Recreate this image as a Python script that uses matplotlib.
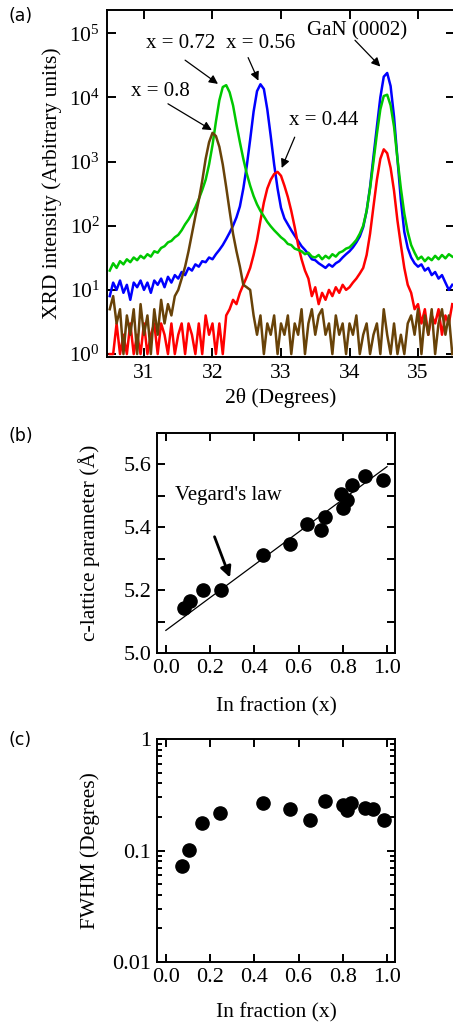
import numpy as np
import matplotlib
matplotlib.use("Agg")
import matplotlib.pyplot as plt
from matplotlib.ticker import LogLocator, NullFormatter, MultipleLocator

plt.rcParams['font.family'] = ['Liberation Serif', 'DejaVu Serif']
plt.rcParams['mathtext.fontset'] = 'stix'
plt.rcParams['axes.linewidth'] = 1.4

# ---- panel (a): XRD scans, 2theta from 30.50 to 35.50 in steps of 0.05 ----
two_theta = np.round(np.arange(30.50, 35.501, 0.05), 2)

i_072 = [20, 26, 22, 28, 25, 30, 27, 32, 29, 34,
         31, 36, 33, 40, 38, 45, 48, 55, 58, 66,
         72, 85, 105, 125, 155, 195, 260, 360, 520, 900,
         1800, 4200, 9000, 14500, 15500, 12000, 7500, 3800, 2000, 1100,
         650, 420, 290, 215, 170, 140, 115, 98, 85, 75,
         66, 60, 52, 50, 44, 42, 40, 36, 38, 33,
         32, 35, 30, 34, 31, 36, 33, 38, 40, 44,
         46, 52, 60, 75, 100, 170, 380, 1000, 2700, 6500,
         10500, 11000, 7500, 3500, 1100, 380, 155, 80, 50, 38,
         30, 33, 28, 32, 29, 34, 30, 35, 31, 36, 33]

i_056 = [8, 13, 10, 14, 9, 12, 7, 13, 11, 14,
         10, 13, 9, 14, 12, 15, 11, 16, 13, 17,
         15, 19, 17, 22, 20, 25, 23, 28, 27, 32,
         30, 36, 42, 50, 62, 78, 100, 135, 200, 380,
         850, 2200, 6000, 12500, 16000, 13500, 6500, 2500, 900, 380,
         190, 130, 105, 85, 70, 58, 48, 42, 36, 30,
         29, 26, 24, 22, 25, 23, 26, 28, 32, 36,
         40, 46, 55, 68, 95, 170, 400, 1200, 3500, 10000,
         21000, 24000, 15000, 5000, 1100, 250, 80, 45, 32, 26,
         23, 25, 20, 22, 17, 19, 15, 17, 13, 10, 12]

i_044 = [1, 1, 3, 1, 2, 1, 3, 1, 2, 1,
         3, 1, 2, 3, 1, 3, 2, 1, 3, 1,
         2, 3, 1, 3, 2, 1, 3, 1, 4, 2,
         3, 1, 3, 1, 4, 5, 7, 6, 9, 12,
         16, 22, 35, 60, 120, 230, 380, 520, 640, 690,
         600, 420, 280, 170, 95, 50, 30, 20, 15, 8,
         11, 6, 9, 7, 10, 8, 11, 9, 12, 10,
         11, 13, 15, 18, 22, 35, 75, 200, 520, 1100,
         1550, 1350, 800, 350, 120, 50, 22, 12, 9, 5,
         6, 3, 5, 2, 4, 3, 5, 2, 4, 3, 6]

i_080 = [5, 8, 3, 5, 1, 4, 2, 5, 1, 6,
         2, 4, 1, 5, 2, 7, 3, 6, 4, 8,
         10, 15, 23, 40, 75, 140, 250, 500, 1100, 2000,
         2800, 2500, 1700, 900, 400, 170, 75, 40, 23, 12,
         11, 10, 4, 2, 4, 1, 3, 2, 4, 1,
         3, 2, 4, 1, 3, 2, 5, 1, 3, 5,
         2, 4, 5, 2, 3, 1, 4, 2, 3, 1,
         3, 2, 4, 1, 2, 3, 1, 2, 3, 1,
         5, 2, 1, 3, 1, 2, 1, 3, 4, 2,
         5, 1, 4, 2, 5, 1, 3, 5, 2, 4, 1]

# ---- panel (b): c-lattice parameter ----
x_frac_b = [0.08, 0.11, 0.17, 0.25, 0.44, 0.56, 0.64, 0.70, 0.72, 0.79,
            0.80, 0.82, 0.84, 0.90, 0.98]
c_lat = [5.143, 5.166, 5.202, 5.199, 5.312, 5.348, 5.409, 5.391, 5.433, 5.507,
         5.461, 5.487, 5.534, 5.563, 5.549]
vegard_x = [0.0, 1.0]
vegard_c = [5.072, 5.593]

# ---- panel (c): FWHM ----
x_frac_c = [0.075, 0.105, 0.165, 0.245, 0.44, 0.56, 0.65, 0.72, 0.80, 0.82,
            0.835, 0.90, 0.935, 0.985]
fwhm = [0.073, 0.101, 0.175, 0.218, 0.267, 0.237, 0.188, 0.277, 0.258, 0.229,
        0.266, 0.239, 0.235, 0.188]

W, H = 453, 1027
fig = plt.figure(figsize=(W / 100, H / 100), dpi=100)


def box(l, t, r, b):
    return [l / W, 1 - b / H, (r - l) / W, (b - t) / H]


tick_kw = dict(direction='in', top=True, right=True, width=1.4)

# (a)
ax1 = fig.add_axes(box(107, 10, 455, 357))
ax1.plot(two_theta, i_056, color='#0000ff', lw=1.8)
ax1.plot(two_theta, i_044, color='#ff0000', lw=1.8)
ax1.plot(two_theta, i_072, color='#00c800', lw=1.8)
ax1.plot(two_theta, i_080, color='#684208', lw=1.8)
ax1.set_yscale('log')
ax1.set_xlim(30.46, 35.54)
ax1.set_ylim(0.9, 2.3e5)
ax1.yaxis.set_major_locator(LogLocator(base=10, numticks=10))
ax1.yaxis.set_minor_locator(LogLocator(base=10, subs=(), numticks=10))
ax1.xaxis.set_major_locator(MultipleLocator(1))
ax1.tick_params(which='major', length=6.5, labelsize=15.5, pad=5, **tick_kw)
ax1.set_xlabel('2θ (Degrees)', fontsize=15.5, labelpad=4)
ax1.set_ylabel('XRD intensity (Arbitrary units)', fontsize=15.5)
ax1.yaxis.set_label_coords(-0.13, 0.5)

arrow = dict(arrowstyle='-|>', color='k', lw=0.9, mutation_scale=13, shrinkA=0, shrinkB=0)
ax1.text(31.54, 10**4.84, 'x = 0.72', ha='center', va='center', fontsize=15)
ax1.annotate('', xy=(32.08, 10**4.21), xytext=(31.6, 10**4.58), arrowprops=arrow)
ax1.text(32.70, 10**4.84, 'x = 0.56', ha='center', va='center', fontsize=15)
ax1.annotate('', xy=(32.67, 10**4.26), xytext=(32.52, 10**4.62), arrowprops=arrow)
ax1.text(31.24, 10**4.09, 'x = 0.8', ha='center', va='center', fontsize=15)
ax1.annotate('', xy=(31.99, 10**3.49), xytext=(31.35, 10**3.9), arrowprops=arrow)
ax1.text(33.63, 10**3.64, 'x = 0.44', ha='center', va='center', fontsize=15)
ax1.annotate('', xy=(33.01, 10**2.9), xytext=(33.2, 10**3.38), arrowprops=arrow)
ax1.text(34.11, 10**5.03, 'GaN (0002)', ha='center', va='center', fontsize=15)
ax1.annotate('', xy=(34.45, 10**4.48), xytext=(34.08, 10**4.89), arrowprops=arrow)
fig.text(8 / W, 1 - 16 / H, '(a)', family='DejaVu Sans', fontsize=12.5, va='center')

# (b)
ax2 = fig.add_axes(box(157, 433, 395, 653))
ax2.plot(vegard_x, vegard_c, color='k', lw=0.9)
ax2.plot(x_frac_b, c_lat, 'o', color='k', ms=9.5)
ax2.set_xlim(-0.04, 1.036)
ax2.set_ylim(5.0, 5.7)
ax2.xaxis.set_major_locator(MultipleLocator(0.2))
ax2.yaxis.set_major_locator(MultipleLocator(0.2))
ax2.yaxis.set_minor_locator(MultipleLocator(0.1))
ax2.tick_params(which='both', length=6, labelsize=16, pad=4, **tick_kw)
ax2.set_xlabel('In fraction (x)', fontsize=15.5)
ax2.xaxis.set_label_coords(0.5, -0.2)
ax2.set_ylabel('c-lattice parameter (Å)', fontsize=15.5)
ax2.yaxis.set_label_coords(-0.24, 0.5)
ax2.text(0.04, 5.5, "Vegard's law", fontsize=15, va='center')
ax2.annotate('', xy=(0.29, 5.24), xytext=(0.22, 5.37),
             arrowprops=dict(arrowstyle='-|>', color='k', lw=2, mutation_scale=16,
                             shrinkA=0, shrinkB=0))
fig.text(8 / W, 1 - 436 / H, '(b)', family='DejaVu Sans', fontsize=12.5, va='center')

# (c)
ax3 = fig.add_axes(box(157, 739, 395, 962))
ax3.plot(x_frac_c, fwhm, 'o', color='k', ms=9.5)
ax3.set_yscale('log')
ax3.set_xlim(-0.04, 1.036)
ax3.set_ylim(0.01, 1)
ax3.xaxis.set_major_locator(MultipleLocator(0.2))
ax3.yaxis.set_minor_locator(LogLocator(base=10, subs=np.arange(2, 10) * 1.0, numticks=10))
ax3.yaxis.set_minor_formatter(NullFormatter())
ax3.set_yticks([0.01, 0.1, 1])
ax3.set_yticklabels(['0.01', '0.1', '1'])
ax3.tick_params(which='major', length=6, labelsize=16, pad=4, **tick_kw)
ax3.tick_params(which='minor', length=3.5, **tick_kw)
ax3.set_xlabel('In fraction (x)', fontsize=15.5)
ax3.xaxis.set_label_coords(0.5, -0.185)
ax3.set_ylabel('FWHM (Degrees)', fontsize=15.5)
ax3.yaxis.set_label_coords(-0.24, 0.5)
fig.text(8 / W, 1 - 740 / H, '(c)', family='DejaVu Sans', fontsize=12.5, va='center')

fig.savefig('out.png', dpi=100)
